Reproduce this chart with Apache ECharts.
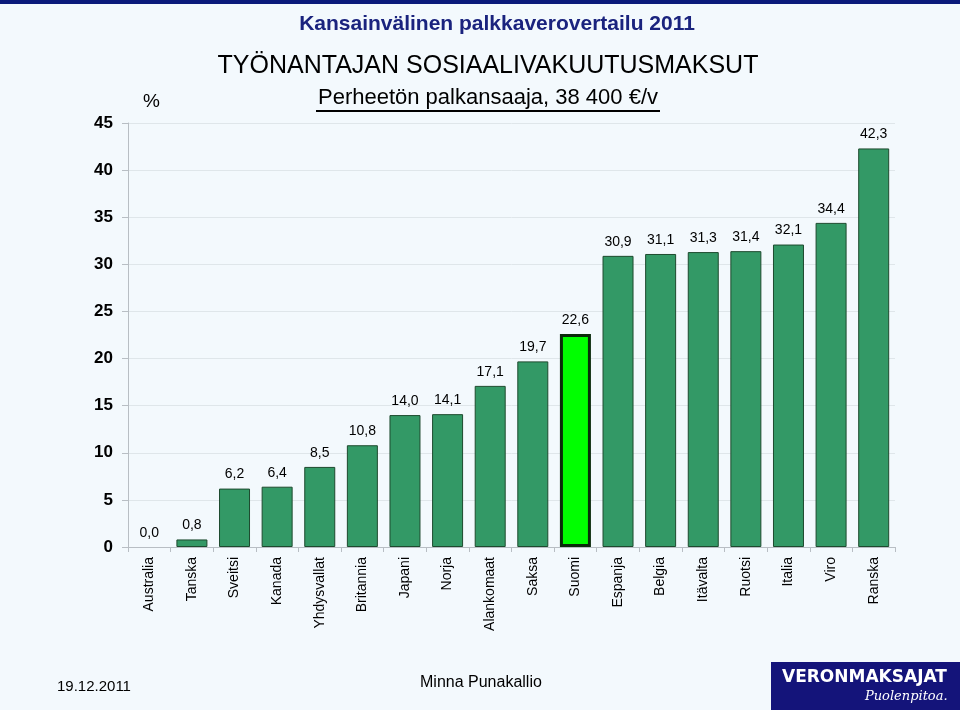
<!DOCTYPE html>
<html><head><meta charset="utf-8">
<script src="https://cdn.jsdelivr.net/npm/echarts@6/dist/echarts.min.js"></script>
<style>html,body{margin:0;padding:0;background:#f3f9fd}#c{width:960px;height:710px}</style>
</head><body><div id="c"></div>
<script>
var categories = ["Australia","Tanska","Sveitsi","Kanada","Yhdysvallat","Britannia","Japani","Norja","Alankomaat","Saksa","Suomi","Espanja","Belgia","Itävalta","Ruotsi","Italia","Viro","Ranska"];
var values = [0.0,0.8,6.2,6.4,8.5,10.8,14.0,14.1,17.1,19.7,22.6,30.9,31.1,31.3,31.4,32.1,34.4,42.3];
var highlight = "Suomi";
var yTicks = [0,5,10,15,20,25,30,35,40,45];

var chart = echarts.init(document.getElementById('c'));
var data = values.map(function(v,i){
  var isH = categories[i]===highlight;
  var st = isH ? {color:'#00ff00', borderColor:'#0a2a0a', borderWidth:3} : {color:'#339966', borderColor:'#1d4a2e', borderWidth: v===0 ? 0 : 1};
  return {value:v, itemStyle: st};
});
chart.setOption({
  backgroundColor:'#f3f9fd',
  animation:false,
  grid:{left:128,right:65,top:123,bottom:163},
  xAxis:{type:'category',data:categories,
    axisLine:{lineStyle:{color:'#b8bec4'}},
    axisTick:{show:true,lineStyle:{color:'#b8bec4'}},
    axisLabel:{rotate:90,fontFamily:'Liberation Sans, Arial',fontSize:14,color:'#000',margin:10,interval:0}},
  yAxis:{type:'value',min:0,max:45,interval:5,
    axisLine:{show:true,lineStyle:{color:'#b8bec4'}},
    axisTick:{show:true,length:6,lineStyle:{color:'#b8bec4'}},
    splitLine:{lineStyle:{color:'#dfe6ea',width:1}},
    axisLabel:{fontFamily:'Liberation Sans, Arial',fontSize:17,fontWeight:'bold',color:'#000',margin:15,
      formatter:function(v){return yTicks.indexOf(v)>=0?String(v):'';}}},
  series:[{type:'bar',data:data,barWidth:31,
    label:{show:true,position:'top',distance:7,fontFamily:'Liberation Sans, Arial',fontSize:14,color:'#000',
      formatter:function(p){return p.value.toFixed(1).replace('.',',');}}}],
  graphic:[
    {type:'rect',shape:{x:0,y:0,width:960,height:4},style:{fill:'#0a1a7a'}},
    {type:'text',x:497,y:14,style:{text:'Kansainvälinen palkkaverovertailu 2011',align:'center',fontFamily:'Liberation Sans, Arial',fontSize:21,fontWeight:'bold',fill:'#1a237e'}},
    {type:'text',x:488,y:54,style:{text:'TYÖNANTAJAN SOSIAALIVAKUUTUSMAKSUT',align:'center',fontFamily:'Liberation Sans, Arial',fontSize:25,fill:'#000'}},
    {type:'text',x:488,y:87,style:{text:'Perheetön palkansaaja, 38 400 €/v',align:'center',fontFamily:'Liberation Sans, Arial',fontSize:22,fill:'#000'}},
    {type:'rect',shape:{x:316,y:110,width:344,height:2},style:{fill:'#000'}},
    {type:'text',left:143,top:92,style:{text:'%',fontFamily:'Liberation Sans, Arial',fontSize:19,fill:'#000'}},
    {type:'text',left:57,top:679,style:{text:'19.12.2011',fontFamily:'Liberation Sans, Arial',fontSize:15,fill:'#000'}},
    {type:'text',left:420,top:675,style:{text:'Minna Punakallio',fontFamily:'Liberation Sans, Arial',fontSize:16,fill:'#000'}},
    {type:'rect',shape:{x:771,y:662,width:189,height:48},style:{fill:'#14147a'}},
    {type:'text',left:782,top:669,style:{text:'VERONMAKSAJAT',fontFamily:'DejaVu Sans, Verdana',fontSize:17,fontWeight:'bold',fill:'#fff'}},
    {type:'text',left:865,top:690,style:{text:'Puolenpitoa.',fontFamily:'DejaVu Serif, Liberation Serif',fontSize:13,fontStyle:'italic',fill:'#fff'}}
  ]
});
</script></body></html>
